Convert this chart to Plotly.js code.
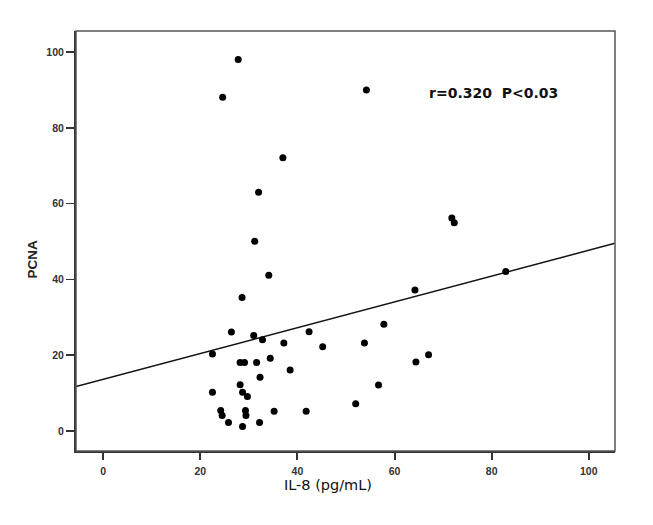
<!DOCTYPE html>
<html>
<head>
<meta charset="utf-8">
<script src="https://cdn.plot.ly/plotly-3.0.1.min.js"></script>
<style>html,body{margin:0;padding:0;background:#fff;}#chart{width:653px;height:525px;}</style>
</head>
<body>
<div id="chart"></div>
<script>
// IL-8 (pg/mL) values
const il8 = [26.4, 31.0, 32.8, 37.2, 42.4, 22.5, 28.2, 29.1, 31.6, 34.4, 38.5, 32.3, 28.2, 22.5, 28.7, 29.7,
             24.2, 24.5, 29.3, 29.4, 35.2, 41.8, 25.8, 28.7, 32.2,
             27.8, 24.6, 37.0, 32.0, 31.2, 34.1, 28.6,
             54.2, 71.8, 72.3, 64.2, 45.2, 57.8, 53.8, 64.4, 67.0, 56.7, 52.0, 82.9];
// PCNA values
const pcna = [26.1, 25.2, 24.1, 23.2, 26.2, 20.3, 18.1, 18.1, 18.1, 19.2, 16.1, 14.2, 12.2, 10.2, 10.2, 9.1,
              5.4, 4.1, 5.4, 4.1, 5.2, 5.2, 2.2, 1.2, 2.2,
              98.1, 88.1, 72.1, 63.0, 50.1, 41.1, 35.2,
              90.0, 56.2, 55.0, 37.2, 22.2, 28.2, 23.2, 18.2, 20.1, 12.1, 7.2, 42.1];
// fitted regression line
const fitIntercept = 13.6;
const fitSlope = 0.341;
const xRange = [-5.6, 105.4];
const yRange = [-5.3, 105.6];
const tickVals = [0, 20, 40, 60, 80, 100];
const statText = "r=0.320  P<0.03";

const lineX = xRange.slice();
const lineY = lineX.map(v => fitIntercept + fitSlope * v);

const traces = [
  {x: lineX, y: lineY, mode: 'lines', line: {color: '#111', width: 1.5}, hoverinfo: 'skip'},
  {x: il8, y: pcna, mode: 'markers', marker: {color: '#000', size: 7}, cliponaxis: false}
];

const tickFont = {family: 'Liberation Sans, Arial, sans-serif', size: 10.5, color: '#333', weight: 'bold'};
const layout = {
  width: 653, height: 525,
  margin: {l: 76, r: 38, t: 31, b: 74},
  paper_bgcolor: '#fff', plot_bgcolor: '#fff',
  showlegend: false,
  xaxis: {range: xRange, tickvals: tickVals, ticks: 'outside', ticklen: 7, tickwidth: 2, tickcolor: '#333',
          showgrid: false, zeroline: false, showline: true, linewidth: 2, linecolor: '#333',
          tickfont: tickFont, ticklabelstandoff: 2},
  yaxis: {range: yRange, tickvals: tickVals, ticks: 'outside', ticklen: 8, tickwidth: 1.5, tickcolor: '#333',
          showgrid: false, zeroline: false, showline: true, linewidth: 2, linecolor: '#333',
          tickfont: tickFont, ticklabelstandoff: 0},
  shapes: [
    {type: 'rect', xref: 'paper', yref: 'paper', x0: 0, x1: 1, y0: 0, y1: 1,
     line: {color: '#555', width: 1.5}, fillcolor: 'rgba(0,0,0,0)'}
  ],
  annotations: [
    {text: statText, xref: 'paper', yref: 'paper', x: 0.7755, y: 0.853, xanchor: 'center', yanchor: 'middle',
     showarrow: false, font: {family: 'DejaVu Sans, sans-serif', size: 14, color: '#111', weight: 'bold'}},
    {text: 'IL-8 (pg/mL)', xref: 'paper', yref: 'paper', x: 0.468, y: -0.081, xanchor: 'center', yanchor: 'middle',
     showarrow: false, font: {family: 'DejaVu Sans, sans-serif', size: 14.5, color: '#111'}},
    {text: 'PCNA', xref: 'paper', yref: 'paper', x: -0.081, y: 0.457, xanchor: 'center', yanchor: 'middle',
     textangle: -90, showarrow: false, font: {family: 'Liberation Sans, Arial, sans-serif', size: 13.5, color: '#222', weight: 'bold'}}
  ]
};

Plotly.newPlot('chart', traces, layout, {displayModeBar: false, staticPlot: true});
</script>
</body>
</html>
